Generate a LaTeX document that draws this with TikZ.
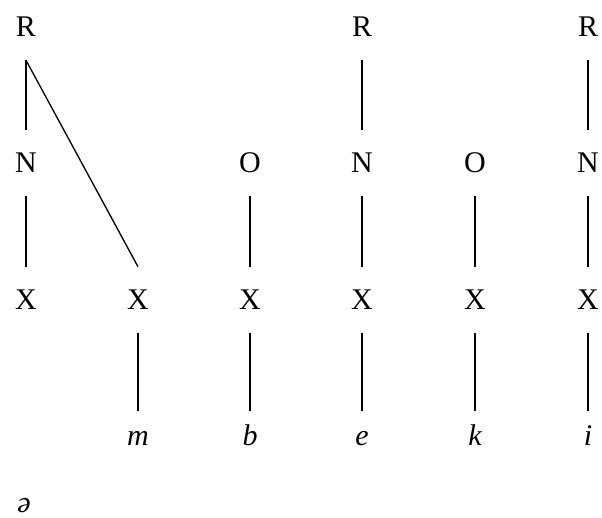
\documentclass[tikz,border=0pt]{standalone}
\usepackage{fontspec}
\setmainfont{Liberation Serif}
\begin{document}
\begin{tikzpicture}[x=0.75pt,y=-0.75pt,
  lbl/.style={inner xsep=0pt, inner ysep=17.5pt, text height=14.5pt, text depth=0pt, font=\fontsize{22.5}{27}\selectfont},
  note/.style={inner sep=0pt, anchor=base, font=\fontsize{22.5}{27}\selectfont\itshape},
  seg/.style={line width=1pt},
  segl/.style={seg, shorten >=-6pt}]
\useasboundingbox (0,0) rectangle (602,517);
% row 1
\node[lbl] (r1) at (26,27) {R};
\node[lbl] (r4) at (362,27) {R};
\node[lbl] (r6) at (588,27) {R};
% row 2
\node[lbl] (n1) at (26,163) {N};
\node[lbl] (o3) at (250,163) {O};
\node[lbl] (n4) at (362,163) {N};
\node[lbl] (o5) at (475,163) {O};
\node[lbl] (n6) at (588,163) {N};
% row 3
\node[lbl] (x1) at (26,300) {X};
\node[lbl] (x2) at (138,300) {X};
\node[lbl] (x3) at (250,300) {X};
\node[lbl] (x4) at (362,300) {X};
\node[lbl] (x5) at (475,300) {X};
\node[lbl] (x6) at (588,300) {X};
% row 4
\node[lbl] (m) at (138,436) {\itshape m};
\node[lbl] (b) at (250,436) {\itshape b};
\node[lbl] (e) at (362,436) {\itshape e};
\node[lbl] (k) at (475,436) {\itshape k};
\node[lbl] (i) at (588,436) {\itshape i};
% schwa
\node[note] (schwa) at (24,512) {ə};
% connectors
\draw[seg] (r1.south) -- (n1.north);
\draw[seg] (r1.south) -- (x2.north);
\draw[seg] (n1.south) -- (x1.north);
\draw[seg] (o3.south) -- (x3.north);
\draw[seg] (r4.south) -- (n4.north);
\draw[seg] (n4.south) -- (x4.north);
\draw[seg] (o5.south) -- (x5.north);
\draw[seg] (r6.south) -- (n6.north);
\draw[seg] (n6.south) -- (x6.north);
\draw[segl] (x2.south) -- (m.north);
\draw[segl] (x3.south) -- (b.north);
\draw[segl] (x4.south) -- (e.north);
\draw[segl] (x5.south) -- (k.north);
\draw[segl] (x6.south) -- (i.north);
\end{tikzpicture}
\end{document}
